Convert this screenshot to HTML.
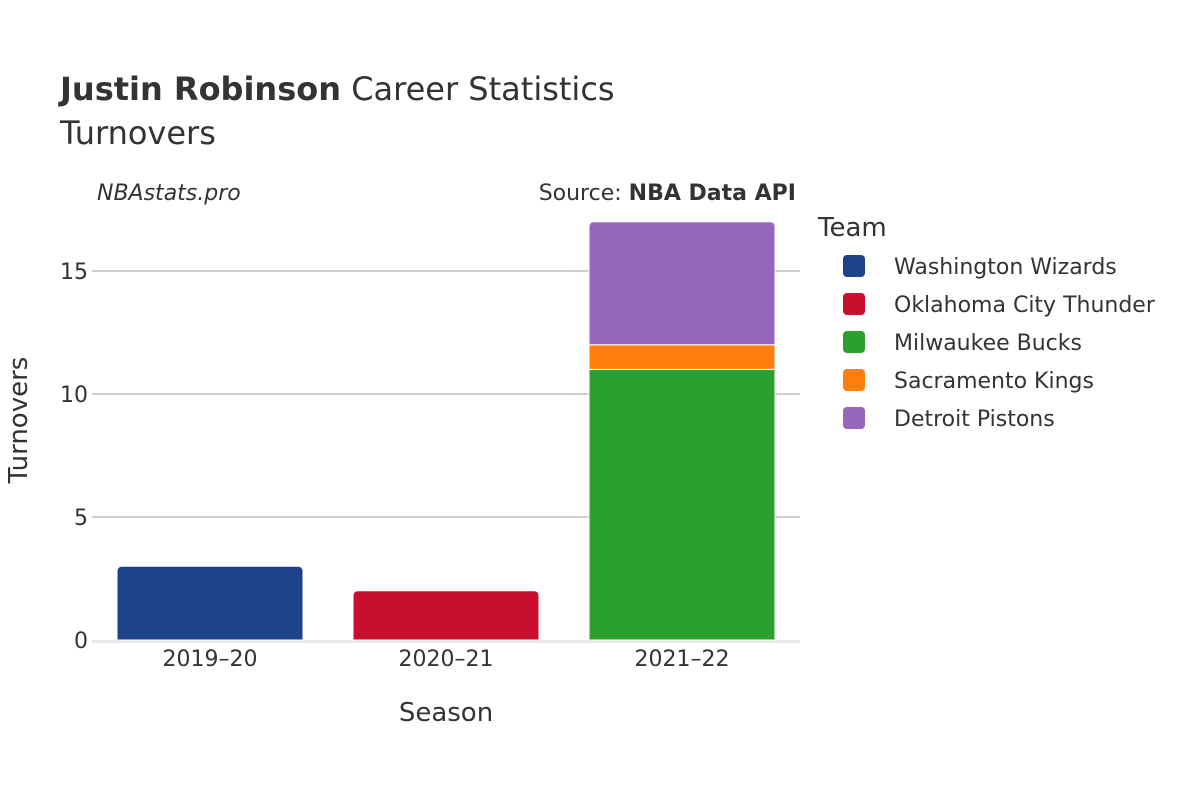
<!DOCTYPE html>
<html><head><meta charset="utf-8"><style>
body{margin:0;background:#fff;}
svg{font-family:"DejaVu Sans","Liberation Sans",sans-serif;}
</style></head><body>
<svg id="chart" width="1200" height="800" xmlns="http://www.w3.org/2000/svg">
<text x="60" y="100" font-size="32" fill="#333"><tspan font-weight="bold">Justin Robinson</tspan> Career Statistics</text>
<text x="60" y="144" font-size="32" fill="#333">Turnovers</text>
<text x="97" y="200" font-size="22" font-style="italic" fill="#333">NBAstats.pro</text>
<text x="796" y="200" font-size="22" text-anchor="end" fill="#333">Source: <tspan font-weight="bold">NBA Data API</tspan></text>
<g id="grid"></g>
<g id="bars"></g>
<g id="xticks"></g>
<text x="446" y="721" font-size="26" text-anchor="middle" fill="#333">Season</text>
<text transform="translate(27,420) rotate(-90)" font-size="26" text-anchor="middle" fill="#333">Turnovers</text>
<text x="818" y="236" font-size="26" fill="#333">Team</text>
<g id="legend"></g>
</svg>
<script>
const seasons=["2019–20","2020–21","2021–22"];
const teams=["Washington Wizards","Oklahoma City Thunder","Milwaukee Bucks","Sacramento Kings","Detroit Pistons"];
const colors=["#1d428a","#c8102e","#2ca02c","#ff7f0e","#9467bd"];
// values[team][season]
const wasValues=[3,0,0];
const okcValues=[0,2,0];
const milValues=[0,0,11];
const sacValues=[0,0,1];
const detValues=[0,0,5];
const yTicks=[0,5,10,15];
const values=[wasValues,okcValues,milValues,sacValues,detValues];
const NS="http://www.w3.org/2000/svg";
const x0=92,x1=800,y0=640,pxPerUnit=24.6;
const band=(x1-x0)/seasons.length, barW=186;
const y=v=>y0-v*pxPerUnit;
const xc=i=>x0+band*(i+0.5);
function mk(t,a,p){const e=document.createElementNS(NS,t);for(const k in a)e.setAttribute(k,a[k]);p.appendChild(e);return e;}
const grid=document.getElementById('grid');
yTicks.forEach(t=>{
  if(t>0){const l=mk('line',{x1:x0,x2:x1,y1:y(t),y2:y(t),stroke:'#b0b0b0','stroke-width':1.2},grid);
  
  }
  const tx=mk('text',{x:88,y:y(t)+8,'font-size':22,'text-anchor':'end',fill:'#333'},grid);
  tx.textContent=t;
  
  
});
const zl=mk('line',{x1:x0,x2:x1,y1:y0+1.5,y2:y0+1.5,stroke:'#e8e8e8','stroke-width':3},grid);


const bars=document.getElementById('bars');
seasons.forEach((s,i)=>{
  let base=0;const bx=xc(i)-barW/2;
  let top=-1;values.forEach((v,ti)=>{if(v[i]>0)top=ti;});
  values.forEach((v,ti)=>{
    const val=v[i]; if(!val)return;
    const yt=y(base+val), yb=y(base), r=ti===top?5:0;
    const d=`M${bx},${yb} L${bx},${yt+r} Q${bx},${yt} ${bx+r},${yt} L${bx+barW-r},${yt} Q${bx+barW},${yt} ${bx+barW},${yt+r} L${bx+barW},${yb} Z`;
    const p=mk('path',{d:d,fill:colors[ti],stroke:'#fff','stroke-width':1},bars);
    
    
    base+=val;
  });
  const t=mk('text',{x:xc(i),y:666,'font-size':22,'text-anchor':'middle',fill:'#333'},document.getElementById('xticks'));
  t.textContent=s;
  
  
});
const lg=document.getElementById('legend');
teams.forEach((tm,i)=>{
  const g=mk('g',{},lg);
  
  
  const cy=266+i*38;
  mk('rect',{x:843,y:cy-11,width:22,height:22,rx:4,fill:colors[i]},g);
  const t=mk('text',{x:894,y:cy+8,'font-size':22,fill:'#333'},g);t.textContent=tm;
});
</script>
</body></html>
